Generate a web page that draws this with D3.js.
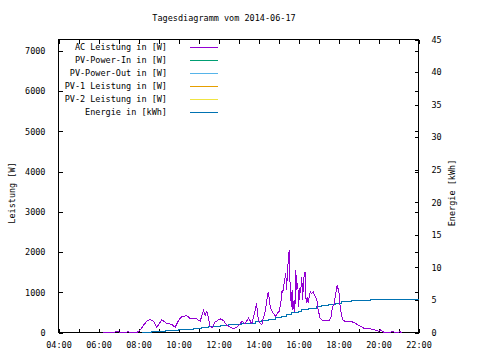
<!DOCTYPE html>
<html>
<head>
<meta charset="utf-8">
<script src="https://cdn.jsdelivr.net/npm/d3@7"></script>
<style>
    body { margin: 0; background: #fff; }
    text { font-family: "DejaVu Sans Mono", monospace; font-size: 8.5px; fill: #000; }
</style>
</head>
<body>
<div id="chart"></div>
<script>
// AC Leistung [W] (Zeitpunkte + Werte)
const acTimes = ["06:15","06:40","07:00","07:05","07:30","07:35","07:55","08:05","08:15","08:25","08:35","08:45","08:55",
    "09:10","09:25","09:40","09:50","10:00","10:10","10:25","10:35","10:50","11:05","11:15","11:20","11:25","11:30",
    "11:35","11:40","11:50","12:05","12:15","12:25","12:35","12:45","12:55","13:05","13:10","13:20","13:30","13:40",
    "13:50","13:54","13:58","14:02","14:05","14:10","14:13","14:20","14:25","14:29","14:31","14:36","14:41","14:45",
    "14:52","14:56","15:02","15:07","15:11","15:13","15:15","15:22","15:24","15:28","15:32","15:34","15:37","15:38",
    "15:41","15:43","15:47","15:49","15:52","15:54","15:58","16:00","16:04","16:06","16:10","16:12","16:17","16:20",
    "16:23","16:26","16:29","16:35","16:39","16:44","16:48","16:55","16:59","17:05","17:10","17:13","17:25","17:32",
    "17:38","17:41","17:47","17:52","17:56","18:02","18:05","18:10","18:14","18:20","18:29","18:40","18:50","18:59",
    "19:10","19:17","19:25","19:36","19:50","20:00","20:06","20:15","20:26","20:45","20:50","21:05","21:10"];
const acValues = [0,5,20,0,15,0,0,60,180,280,324,280,125,
    316,225,200,130,300,400,415,350,360,280,550,430,520,350,
    150,110,260,340,300,175,130,90,130,215,280,215,365,215,
    550,725,400,270,230,185,310,520,810,1015,930,600,520,477,
    393,477,520,725,1057,975,1140,1472,1057,1637,2052,1306,975,642,
    1057,560,810,520,1554,1057,1223,642,1099,975,1388,810,1430,1512,
    725,890,725,1015,975,1015,933,810,560,353,310,310,290,290,
    393,600,725,975,1182,975,642,393,310,270,270,270,230,185,
    145,100,100,90,60,30,60,10,0,20,0,15,0];

// Energie [kWh]
const energyTimes = ["08:10","08:40","09:20","10:00","10:20","10:45","11:10","11:30","12:05","12:30","12:50","13:10",
    "13:30","13:50","14:10","14:30","14:50","15:10","15:25","15:40","16:00","16:10","16:30","16:55","17:10","17:30",
    "17:50","18:10","18:40","19:00","19:35","22:00"];
const energyValues = [0,0.1,0.25,0.4,0.5,0.65,0.8,0.97,1.1,1.2,1.28,1.34,
    1.45,1.66,1.85,2.07,2.3,2.53,2.75,3.04,3.3,3.46,3.71,4.07,4.22,4.35,
    4.48,4.73,4.84,4.94,5.02,5.02];

const yTicks = [0,1000,2000,3000,4000,5000,6000,7000];
const y2Ticks = [0,5,10,15,20,25,30,35,40,45];

const legendItems = [
    { name: "AC Leistung in [W]", color: "#9400d3" },
    { name: "PV-Power-In in [W]", color: "#009e73" },
    { name: "PV-Power-Out in [W]", color: "#56b4e9" },
    { name: "PV-1 Leistung in [W]", color: "#e69f00" },
    { name: "PV-2 Leistung in [W]", color: "#f0e442" },
    { name: "Energie in [kWh]", color: "#0072b2" }
];

const width = 480, height = 360;
const plotLeft = 58.5, plotRight = 418.5, plotTop = 39.5, plotBottom = 332.5;

const parseTime = d3.timeParse("%H:%M");

const svg = d3.select("#chart").append("svg")
    .attr("width", width)
    .attr("height", height);

svg.append("rect").attr("width", width).attr("height", height).attr("fill", "#fff");

// Skalen
const x = d3.scaleTime()
    .domain([parseTime("04:00"), parseTime("22:00")])
    .range([plotLeft, plotRight]);
const y = d3.scaleLinear().domain([0, 7286]).range([plotBottom, plotTop]);
const y2 = d3.scaleLinear().domain([0, 45]).range([plotBottom, plotTop]);

// Achsen (Ticks nach innen, wie gnuplot)
const xAxis = svg.append("g")
    .attr("transform", `translate(0,${plotBottom})`)
    .call(d3.axisBottom(x)
        .ticks(d3.timeHour.every(1))
        .tickSize(-4)
        .tickFormat(d => d.getHours() % 2 === 0 ? d3.timeFormat("%H:%M")(d) : ""));
xAxis.selectAll("text").attr("dy", "0").attr("y", 15);

svg.append("g")
    .attr("transform", `translate(0,${plotTop})`)
    .call(d3.axisTop(x).ticks(d3.timeHour.every(1)).tickSize(-4).tickFormat(""));

svg.append("g")
    .attr("transform", `translate(${plotLeft},0)`)
    .call(d3.axisLeft(y).tickValues(yTicks).tickSize(-4).tickPadding(13).tickFormat(d3.format("d")));

svg.append("g")
    .attr("transform", `translate(${plotRight},0)`)
    .call(d3.axisRight(y).tickValues(yTicks).tickSize(-4).tickFormat(""));

svg.append("g")
    .attr("transform", `translate(${plotRight},0)`)
    .call(d3.axisRight(y2).tickValues(y2Ticks).tickSize(-4).tickPadding(13));

svg.selectAll(".domain").remove();
svg.selectAll(".tick line").attr("stroke", "#000").attr("shape-rendering", "crispEdges");
svg.selectAll(".tick text").style("font-size", "8.5px").attr("font-family", null);

// Rahmen
svg.append("rect")
    .attr("x", plotLeft).attr("y", plotTop)
    .attr("width", plotRight - plotLeft).attr("height", plotBottom - plotTop)
    .attr("fill", "none").attr("stroke", "#000")
    .attr("shape-rendering", "crispEdges");

// Kurven
const acData = acTimes.map((t, i) => ({ t: parseTime(t), v: acValues[i] }));
const energyData = energyTimes.map((t, i) => ({ t: parseTime(t), v: energyValues[i] }));

svg.append("path")
    .datum(energyData)
    .attr("fill", "none")
    .attr("stroke", "#0072b2")
    .attr("stroke-width", 1)
    .attr("shape-rendering", "crispEdges")
    .attr("d", d3.line().curve(d3.curveStepAfter).x(d => x(d.t)).y(d => y2(d.v)));

svg.append("path")
    .datum(acData)
    .attr("fill", "none")
    .attr("stroke", "#9400d3")
    .attr("stroke-width", 1)
    .attr("shape-rendering", "crispEdges")
    .attr("d", d3.line().x(d => x(d.t)).y(d => y(d.v)));

// Legende
const legend = svg.append("g");
legendItems.forEach((item, i) => {
    const ly = 47.5 + i * 13;
    legend.append("text")
        .attr("x", 167).attr("y", ly)
        .attr("dy", "0.35em")
        .attr("text-anchor", "end")
        .text(item.name);
    legend.append("line")
        .attr("x1", 190).attr("x2", 218)
        .attr("y1", ly).attr("y2", ly)
        .attr("stroke", item.color)
        .attr("stroke-width", 1)
        .attr("shape-rendering", "crispEdges");
});

// Titel und Achsenbeschriftungen
svg.append("text")
    .attr("x", 224).attr("y", 18)
    .attr("dy", "0.35em")
    .attr("text-anchor", "middle")
    .text("Tagesdiagramm vom 2014-06-17");

svg.append("text")
    .attr("transform", "translate(12,193) rotate(-90)")
    .attr("dy", "0.35em")
    .attr("text-anchor", "middle")
    .text("Leistung [W]");

svg.append("text")
    .attr("transform", "translate(452,193) rotate(-90)")
    .attr("dy", "0.35em")
    .attr("text-anchor", "middle")
    .text("Energie [kWh]");
</script>
</body>
</html>
